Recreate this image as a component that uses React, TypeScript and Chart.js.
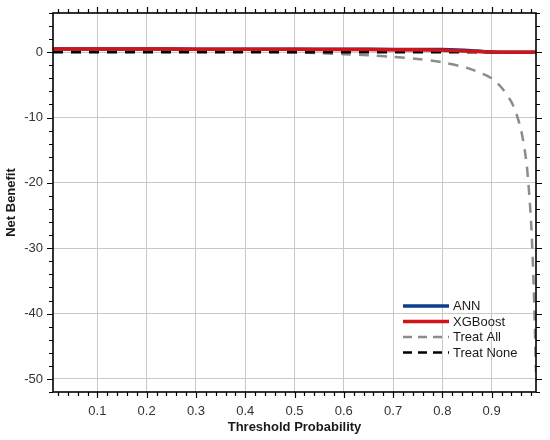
import React, { useEffect, useRef } from "react";
import { Chart, registerables } from "chart.js";

Chart.register(...registerables);

const thresholdsModel = [0.01, 0.1, 0.2, 0.3, 0.4, 0.5, 0.6, 0.7, 0.75, 0.8, 0.83, 0.86, 0.88, 0.9, 0.92, 0.95, 0.99];
const annValues = [0.5, 0.49, 0.48, 0.47, 0.46, 0.45, 0.44, 0.43, 0.42, 0.4, 0.35, 0.24, 0.13, 0.04, 0.0, 0.0, 0.0];
const xgbValues = [0.5, 0.49, 0.48, 0.47, 0.46, 0.44, 0.42, 0.39, 0.36, 0.3, 0.23, 0.14, 0.08, 0.02, 0.0, 0.0, 0.0];

const thresholdsAll = [0.01, 0.05, 0.1, 0.15, 0.2, 0.25, 0.3, 0.35, 0.4, 0.45, 0.5, 0.55, 0.6, 0.65, 0.7, 0.75, 0.8, 0.85, 0.88, 0.9, 0.92, 0.94, 0.95, 0.96, 0.97, 0.975, 0.98, 0.985, 0.99];
const treatAllValues = [0.49, 0.47, 0.44, 0.41, 0.37, 0.33, 0.28, 0.22, 0.15, 0.07, -0.02, -0.15, -0.3, -0.48, -0.72, -1.05, -1.55, -2.4, -3.25, -4.0, -5.4, -7.6, -9.4, -12.0, -16.5, -20.5, -26.0, -35.0, -49.0];

const thresholdsNone = [0.01, 0.99];
const treatNoneValues = [0, 0];

const xMajorTicks = [0.1, 0.2, 0.3, 0.4, 0.5, 0.6, 0.7, 0.8, 0.9];
const xTickLabels = ["0.1", "0.2", "0.3", "0.4", "0.5", "0.6", "0.7", "0.8", "0.9"];
const yMajorTicks = [-50, -40, -30, -20, -10, 0];
const yTickLabels = ["-50", "-40", "-30", "-20", "-10", "0"];

const X_MIN = 0.01;
const X_MAX = 0.99;
const Y_MIN = -52;
const Y_MAX = 6;

const seriesLabels = ["ANN", "XGBoost", "Treat All", "Treat None"];
const FONT = "'Liberation Sans', Arial, sans-serif";

const toPoints = (xs: number[], ys: number[]) => xs.map((x, i) => ({ x, y: ys[i] }));

const frameAndLegendPlugin = {
  id: "frameAndLegend",
  afterDraw(chart: any) {
    const { ctx, chartArea, scales } = chart;
    const { left, right, top, bottom } = chartArea;
    ctx.save();
    ctx.strokeStyle = "#000";
    ctx.lineWidth = 1.2;
    const xs = scales.x;
    const ys = scales.y;
    for (let k = 1; k <= 49; k++) {
      const v = k * 0.02;
      if (v < X_MIN || v > X_MAX) continue;
      const px = Math.round(xs.getPixelForValue(v)) + 0.5;
      const isMajor = k % 5 === 0;
      const len = isMajor ? 6 : 4;
      ctx.beginPath();
      ctx.moveTo(px, bottom);
      ctx.lineTo(px, bottom + len);
      ctx.moveTo(px, top);
      ctx.lineTo(px, top - len);
      ctx.stroke();
    }
    for (let v = Y_MIN; v <= Y_MAX; v += 2) {
      const py = Math.round(ys.getPixelForValue(v)) + 0.5;
      const isMajor = v % 10 === 0;
      const len = isMajor ? 6 : 4;
      ctx.beginPath();
      ctx.moveTo(left, py);
      ctx.lineTo(left - len, py);
      ctx.moveTo(right, py);
      ctx.lineTo(right + len, py);
      ctx.stroke();
    }
    ctx.lineWidth = 1.6;
    ctx.strokeRect(left, top, right - left, bottom - top);

    const ds = chart.data.datasets;
    const x0 = 403;
    const x1 = 449;
    const ys0 = [306, 321.5, 337, 352.5];
    ctx.font = `13px ${FONT}`;
    ctx.textBaseline = "middle";
    ctx.textAlign = "left";
    ds.forEach((d: any, i: number) => {
      const y = ys0[i];
      ctx.beginPath();
      ctx.strokeStyle = d.borderColor;
      ctx.lineWidth = d.borderWidth;
      ctx.setLineDash(d.borderDash && d.borderDash.length ? [9, 6] : []);
      ctx.moveTo(x0, y);
      ctx.lineTo(x1, y);
      ctx.stroke();
      ctx.setLineDash([]);
      ctx.fillStyle = "#1a1a1a";
      ctx.fillText(d.label, x1 + 4, y + 0.5);
    });
    ctx.restore();
  },
};

export default function App() {
  const canvasRef = useRef<HTMLCanvasElement | null>(null);

  useEffect(() => {
    const canvas = canvasRef.current;
    if (!canvas) return;
    const chart = new Chart(canvas, {
      type: "line",
      data: {
        datasets: [
          {
            label: seriesLabels[0],
            data: toPoints(thresholdsModel, annValues),
            borderColor: "#0b3d8c",
            borderWidth: 3.5,
            pointRadius: 0,
            tension: 0.3,
            order: 1,
          },
          {
            label: seriesLabels[1],
            data: toPoints(thresholdsModel, xgbValues),
            borderColor: "#d01417",
            borderWidth: 3.5,
            pointRadius: 0,
            tension: 0.3,
            order: 0,
          },
          {
            label: seriesLabels[2],
            data: toPoints(thresholdsAll, treatAllValues),
            borderColor: "#8c8c8c",
            borderWidth: 2.5,
            borderDash: [10, 8],
            pointRadius: 0,
            tension: 0.3,
            order: 3,
          },
          {
            label: seriesLabels[3],
            data: toPoints(thresholdsNone, treatNoneValues),
            borderColor: "#000000",
            borderWidth: 2.5,
            borderDash: [10, 8],
            pointRadius: 0,
            order: 2,
          },
        ],
      },
      options: {
        animation: false,
        responsive: false,
        layout: { padding: { top: 13, right: 14, left: 0, bottom: 0 } },
        plugins: {
          legend: { display: false },
          tooltip: { enabled: false },
        },
        scales: {
          x: {
            type: "linear",
            min: X_MIN,
            max: X_MAX,
            afterBuildTicks: (axis: any) => {
              axis.ticks = xMajorTicks.map((v) => ({ value: v }));
            },
            afterFit: (axis: any) => {
              axis.height = 48;
            },
            ticks: {
              autoSkip: false,
              maxRotation: 0,
              padding: 12,
              color: "#333",
              font: { family: FONT, size: 13 },
              callback: (v: any) => {
                const i = xMajorTicks.findIndex((t) => Math.abs(t - v) < 1e-9);
                return i >= 0 ? xTickLabels[i] : "";
              },
            },
            grid: { color: "#c8c8c8", lineWidth: 1, drawTicks: false },
            border: { display: false },
            title: {
              display: true,
              text: "Threshold Probability",
              color: "#1a1a1a",
              font: { family: FONT, size: 13, weight: "bold" },
              padding: { top: 0, bottom: 5 },
            },
          },
          y: {
            type: "linear",
            min: Y_MIN,
            max: Y_MAX,
            afterBuildTicks: (axis: any) => {
              axis.ticks = yMajorTicks.map((v) => ({ value: v }));
            },
            afterFit: (axis: any) => {
              axis.width = 53;
              axis.paddingTop = 0;
              axis.paddingBottom = 0;
            },
            ticks: {
              autoSkip: false,
              padding: 10,
              color: "#333",
              font: { family: FONT, size: 13 },
              callback: (v: any) => {
                const i = yMajorTicks.findIndex((t) => Math.abs(t - v) < 1e-9);
                return i >= 0 ? yTickLabels[i] : "";
              },
            },
            grid: { color: "#c8c8c8", lineWidth: 1, drawTicks: false },
            border: { display: false },
            title: {
              display: true,
              text: "Net Benefit",
              color: "#1a1a1a",
              font: { family: FONT, size: 13, weight: "bold" },
              padding: { top: 4, bottom: 0 },
            },
          },
        },
      },
      plugins: [frameAndLegendPlugin],
    } as any);
    return () => chart.destroy();
  }, []);

  return (
    <div style={{ position: "absolute", left: 0, top: 0, width: 550, height: 440, background: "#fff" }}>
      <canvas ref={canvasRef} width={550} height={440} style={{ display: "block" }} />
    </div>
  );
}
